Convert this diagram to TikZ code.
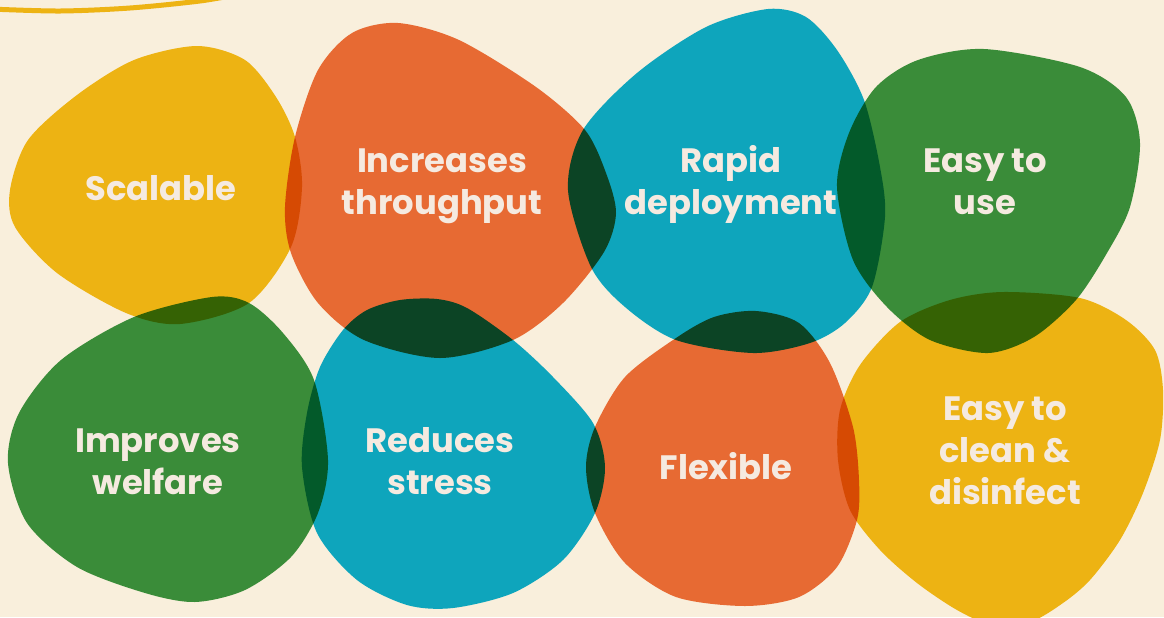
\documentclass[tikz,border=0pt]{standalone}
\usepackage{fontspec}
\setmainfont{Poppins}
\usetikzlibrary{positioning}

\definecolor{cream}{HTML}{F9EFDC}
\definecolor{sunyellow}{HTML}{EDB313}
\definecolor{rustorange}{HTML}{E76A33}
\definecolor{seateal}{HTML}{0EA5BC}
\definecolor{leafgreen}{HTML}{3A8C39}
\definecolor{labelcream}{HTML}{F5EAE0}

\tikzset{
  lbl/.style={text=labelcream, anchor=base, inner sep=0pt,
    font=\bfseries\fontsize{16.9}{21}\selectfont},
  ring/.style={draw=sunyellow, line width=2.5pt}
}

\begin{document}
\begin{tikzpicture}[x=0.5pt,y=-0.5pt]
\useasboundingbox (0,0) rectangle (1164,617);
\fill[cream] (0,0) rectangle (1164,617);
\draw[ring] plot[smooth] coordinates {(-10,9) (60,11) (130,8) (200,1) (240,-6)};

\begin{scope}[blend group=multiply]
\fill[sunyellow] plot[smooth cycle] coordinates {(197,46) (245,60) (276,97) (295,137) (302,187)
  (291,247) (249,303) (180,324) (126,313) (57,273) (15,227) (10,190) (28,140) (77,95) (134,60)};
\fill[rustorange] plot[smooth cycle] coordinates {(398,23) (459,40) (536,87) (585,130) (606,173)
  (616,213) (604,252) (563,303) (513,340) (440,358) (364,340) (318,303) (291,253)
  (285,207) (295,137) (318,70) (352,33)};
\fill[seateal] plot[smooth cycle] coordinates {(768,9) (806,17) (837,50) (864,100) (880,167)
  (885,217) (872,287) (845,323) (810,343) (753,353) (676,340) (625,307) (591,267) (568,190)
  (583,130) (637,73) (706,27)};
\fill[leafgreen] plot[smooth cycle] coordinates {(984,49) (1080,67) (1126,97) (1140,143) (1130,207)
  (1107,253) (1076,300) (1034,337) (988,353) (930,340) (887,307) (853,260) (837,187) (849,133)
  (876,87) (918,60)};
\fill[leafgreen] plot[smooth cycle] coordinates {(212,297) (249,303) (283,333) (314,380) (328,460)
  (318,513) (291,557) (245,590) (195,602) (145,593) (77,567) (27,523) (8,463) (19,413) (61,360)
  (134,317)};
\fill[seateal] plot[smooth cycle] coordinates {(437,299) (467,308) (513,340) (553,377) (593,423)
  (605,467) (595,513) (563,560) (513,593) (453,608) (407,605) (357,580) (317,533) (302,467)
  (307,413) (320,367) (343,330) (367,310) (400,300)};
\fill[rustorange] plot[smooth cycle] coordinates {(756,311) (799,323) (830,363) (853,427) (859,480)
  (857,520) (837,567) (799,597) (745,606) (676,597) (625,563) (595,513) (586,467) (595,427)
  (625,377) (676,338) (714,317)};
\fill[sunyellow] plot[smooth cycle] coordinates {(1003,292) (1080,298) (1126,320) (1155,350)
  (1163,390) (1160,440) (1143,493) (1120,540) (1090,580) (1063,603) (1030,622) (990,624)
  (957,610) (917,583) (880,550) (850,510) (838,460) (840,410) (860,365) (900,322) (950,300)};
\end{scope}

\node[lbl] (scalable) at (161,200) {Scalable};
\node[lbl] (incr1) at (442,172) {Increases};
\node[lbl] (incr2) at (442,214) {throughput};
\node[lbl] (rapid1) at (731,172) {Rapid};
\node[lbl] (rapid2) at (731,214) {deployment};
\node[lbl] (easy1) at (985,172) {Easy to};
\node[lbl] (easy2) at (985,214) {use};
\node[lbl] (impr1) at (158,452) {Improves};
\node[lbl] (impr2) at (158,494) {welfare};
\node[lbl] (redu1) at (440,452) {Reduces};
\node[lbl] (redu2) at (440,494) {stress};
\node[lbl] (flex) at (726,479) {Flexible};
\node[lbl] (clean1) at (1005,420) {Easy to};
\node[lbl] (clean2) at (1005,462) {clean \&};
\node[lbl] (clean3) at (1005,504) {disinfect};
\end{tikzpicture}
\end{document}
